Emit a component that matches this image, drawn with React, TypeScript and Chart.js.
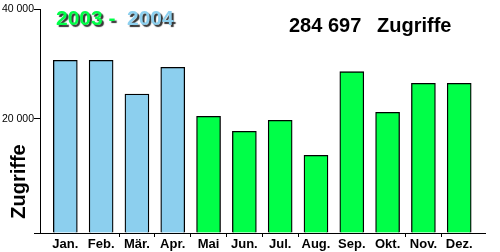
import React, { useEffect, useRef } from "react";
import { Chart, registerables } from "chart.js";

Chart.register(...registerables);

const months = ["Jan.", "Feb.", "Mär.", "Apr.", "Mai", "Jun.", "Jul.", "Aug.", "Sep.", "Okt.", "Nov.", "Dez."];
const visits = [30670, 30670, 24550, 29400, 20490, 17760, 19760, 13400, 28600, 21220, 26490, 26490];
const years = [2004, 2004, 2004, 2004, 2003, 2003, 2003, 2003, 2003, 2003, 2003, 2003];
const yTicks = [20000, 40000];
const titleLeft = "2003 -";
const titleRight = "2004";
const totalText = "284 697";
const totalLabel = "Zugriffe";
const yTitle = "Zugriffe";

const BLUE = "#8CCFEE";
const GREEN = "#00FF48";
const FONT = "'Liberation Sans', Arial, sans-serif";
const Y_MIN = -730;
const X_MIN = -0.707;
const X_MAX = 11.72;
const VISIBLE_X_MARKS = [2, 3, 4, 5, 6, 7, 10, 11];

const fmt = (v: number) => {
  const th = Math.floor(v / 1000);
  const rest = String(Math.round(v % 1000)).padStart(3, "0");
  return th > 0 ? `${th} ${rest}` : String(v);
};

const textPlugin = {
  id: "texts",
  afterDraw(chart: any) {
    const ctx = chart.ctx;
    ctx.save();
    ctx.font = `bold 21px ${FONT}`;
    ctx.textAlign = "left";
    ctx.textBaseline = "alphabetic";
    ctx.shadowColor = "rgba(30,30,30,0.9)";
    ctx.shadowOffsetX = 2;
    ctx.shadowOffsetY = 2;
    ctx.shadowBlur = 1;
    ctx.fillStyle = GREEN;
    ctx.fillText(titleLeft, 56, 25);
    ctx.fillStyle = BLUE;
    ctx.fillText(titleRight, 127, 25);
    ctx.shadowColor = "transparent";
    ctx.shadowOffsetX = 0;
    ctx.shadowOffsetY = 0;
    ctx.shadowBlur = 0;
    ctx.font = `bold 20px ${FONT}`;
    ctx.fillStyle = "#000";
    ctx.fillText(totalText, 289, 32);
    ctx.fillText(totalLabel, 377, 32);
    ctx.translate(24.5, 181.5);
    ctx.rotate(-Math.PI / 2);
    ctx.textAlign = "center";
    ctx.fillText(yTitle, 0, 0);
    ctx.restore();
  },
};

export default function App() {
  const ref = useRef<HTMLCanvasElement | null>(null);

  useEffect(() => {
    if (!ref.current) return;
    const chart = new Chart(ref.current, {
      type: "bar",
      data: {
        datasets: [
          {
            data: visits.map((v, i) => ({ x: i, y: v })),
            backgroundColor: years.map((y) => (y === 2004 ? BLUE : GREEN)),
            borderColor: "#000",
            borderWidth: 1.3,
            barThickness: 24,
            base: Y_MIN,
          } as any,
        ],
      },
      plugins: [textPlugin],
      options: {
        animation: false,
        responsive: false,
        events: [],
        layout: { padding: { top: 9, right: 15, left: 0, bottom: 0 } },
        plugins: { legend: { display: false }, tooltip: { enabled: false }, title: { display: false } },
        scales: {
          x: {
            type: "linear",
            min: X_MIN,
            max: X_MAX,
            offset: false,
            afterBuildTicks: (scale: any) => {
              scale.ticks = months.map((_, i) => ({ value: i }));
            },
            afterFit: (scale: any) => {
              scale.height = 19;
              scale.paddingLeft = 0;
              scale.paddingRight = 0;
            },
            ticks: {
              autoSkip: false,
              maxRotation: 0,
              minRotation: 0,
              padding: 0,
              color: "#000",
              font: { family: FONT, size: 13, weight: "bold" },
              callback: (v: any) => months[Math.round(Number(v))] ?? "",
            },
            grid: {
              display: true,
              drawOnChartArea: false,
              drawTicks: true,
              tickLength: 4,
              offset: true,
              color: (c: any) => (VISIBLE_X_MARKS.includes(c.index) ? "#000" : "rgba(0,0,0,0)"),
              lineWidth: 1,
            },
            border: { display: true, color: "#000", width: 1 },
          },
          y: {
            type: "linear",
            min: Y_MIN,
            max: 40000,
            afterBuildTicks: (scale: any) => {
              scale.ticks = [{ value: Y_MIN }, ...yTicks.map((v) => ({ value: v }))];
            },
            afterFit: (scale: any) => {
              scale.width = 40;
              scale.paddingTop = 0;
              scale.paddingBottom = 0;
            },
            ticks: {
              padding: 0,
              color: "#000",
              font: { family: FONT, size: 10.5 },
              callback: (v: any) => (Number(v) > 0 ? fmt(Number(v)) : ""),
            },
            grid: {
              display: true,
              drawOnChartArea: false,
              drawTicks: true,
              tickLength: 6,
              color: "#000",
              lineWidth: 1,
            },
            border: { display: true, color: "#000", width: 1 },
          },
        },
      },
    } as any);
    return () => chart.destroy();
  }, []);

  return (
    <div style={{ position: "absolute", left: 0, top: 0, width: 500, height: 252, background: "#fff" }}>
      <canvas ref={ref} width={500} height={252} style={{ width: 500, height: 252, display: "block" }} />
    </div>
  );
}
